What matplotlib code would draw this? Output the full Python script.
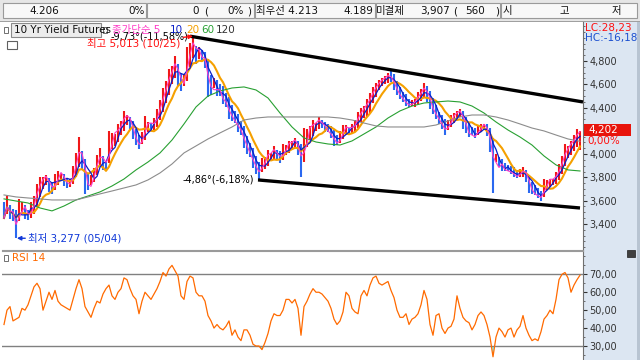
import numpy as np
import pandas as pd
import matplotlib
matplotlib.use("Agg")
import matplotlib.pyplot as plt
from matplotlib.patches import Rectangle

plt.rcParams['font.family'] = ['DejaVu Sans', 'Noto Sans CJK KR']

# daily bar midpoints (x1000 yield), left to right
mid = [3520, 3563, 3503, 3477, 3417, 3520, 3537, 3503, 3477, 3520, 3563, 3649,
       3718, 3752, 3778, 3735, 3709, 3761, 3795, 3804, 3778, 3752, 3752, 3821, 3907,
       4018, 3950, 3804, 3761, 3778, 3821, 3907, 3975, 3924, 3907, 4061,
       4113, 4121, 4182, 4224, 4285, 4293, 4267, 4207, 4147, 4104,
       4139, 4224, 4233, 4233, 4259, 4310, 4379, 4465, 4534, 4620, 4680, 4748,
       4680, 4620, 4637, 4774, 4852, 4912, 4852, 4869, 4852,
       4809, 4654, 4594, 4611, 4568, 4551, 4508, 4465, 4396, 4353, 4319, 4267, 4224,
       4147, 4078, 4035, 3967, 3907, 3881,
       3907, 3924, 3967, 3975, 4010, 3993, 3975, 4018, 4035, 4061, 4078, 4096, 4053,
       3950,
       4078, 4139, 4182, 4224, 4233, 4267, 4259, 4233, 4224, 4190, 4139,
       4121, 4147, 4190, 4207, 4199, 4216, 4242, 4293, 4336, 4362, 4396, 4439, 4508,
       4551, 4594, 4620, 4637, 4654,
       4671, 4620, 4568, 4525, 4491, 4465, 4439, 4439, 4439, 4482, 4508, 4551, 4517,
       4465, 4413, 4362, 4310, 4276, 4233,
       4250, 4285, 4310, 4336, 4353, 4293, 4250, 4207, 4199, 4182, 4207, 4224, 4233,
       4207, 4121,
       3950,
       3967, 3932, 3907, 3889, 3881, 3864, 3847, 3829, 3838, 3847, 3812, 3743, 3709,
       3692, 3666,
       3649, 3709, 3735, 3752, 3761, 3795, 3847, 3907, 3993, 4018, 4053, 4096, 4139, 4117]

# body of each bar: close - open
change = [-140, 150, -120, -100, -200, 190, 100, -120, -90, 140, 150, 190,
          170, 100, 90, -120, -100, 140, 120, 70, -100, -90, 70, 150, 200,
          250, -150, -300, -140, 90, 120, 170, 150, -120, -70, 270,
          140, 100, 150, 120, 170, 90, -100, -150, -140, -120,
          100, 200, 90, -70, 100, 150, 170, 200, 190, 220, 150, 190,
          -190, -150, 100, 290, 200, 170, -150, 100, -90,
          -140, -320, -170, 90, -140, -100, -150, -120, -190, -140, -100, -150, -120,
          -190, -150, -120, -170, -150, -100,
          120, 100, 140, 70, 120, -90, -100, 140, 90, 100, 70, 90, -120,
          -270,
          300, 150, 120, 140, 70, 100, -70, -90, -70, -100, -140,
          -90, 100, 120, 90, -50, 90, 100, 140, 120, 100, 150, 170, 140, 120, 90, 70, 70, 90,
          -100, -140, -120, -100, -90, -100, -70, 50, 70, 100, 100, 120, -140, -150, -140,
          -120, -100, -120, -140,
          90, 100, 90, 70, 70, -150, -140, -120, -70, -90, 90, 70, 50, -100, -200,
          -370,
          70, -90, -100, -70, -50, -70, -90, -70, 70, 90, -100, -150, -100, -90, -90,
          -70, 150, 90, 70, 50, 100, 140, 150, 190, 100, 120, 140, 150, 170]

low_wicks = {4: 3277, 85: 3778, 99: 3800, 163: 3666, 179: 3600}
high_wicks = {63: 5013}
last_price = 4202

# 60 / 120 day averages, read every 4th bar
ma60_every4 = [3615, 3597, 3580, 3537, 3512, 3554, 3606, 3640, 3675, 3726, 3786, 3864,
               3932, 4010, 4121, 4259, 4405, 4499, 4542, 4568, 4577, 4551, 4482, 4353,
               4233, 4139, 4104, 4087, 4078, 4113, 4173, 4233, 4310, 4371, 4413, 4439,
               4448, 4456, 4448, 4413, 4353, 4276, 4207, 4147, 4078, 3984, 3907, 3864, 3855]
ma120_every4 = [3649, 3632, 3623, 3615, 3606, 3606, 3606, 3632, 3658, 3683, 3709, 3735,
                3778, 3838, 3915, 4010, 4070, 4130, 4182, 4233, 4293, 4310, 4319, 4319,
                4319, 4319, 4319, 4319, 4310, 4293, 4267, 4242, 4233, 4233, 4233, 4233,
                4250, 4285, 4319, 4336, 4336, 4319, 4293, 4259, 4224, 4199, 4164, 4130, 4110]

rsi14 = [42, 50, 52, 44, 45, 46, 51, 50, 53, 58, 63, 65, 62, 50, 55, 60, 56, 61, 55, 53,
         52, 51, 50, 56, 62, 67, 62, 52, 49, 46, 51, 55, 54, 59, 62, 64, 58, 56, 60, 62,
         68, 67, 62, 58, 56, 48, 55, 60, 58, 56, 59, 62, 66, 71, 69, 73, 75, 72, 69, 58,
         56, 66, 69, 68, 60, 58, 58, 55, 47, 44, 40, 42, 40, 39, 41, 44, 36, 39, 35, 33,
         39, 39, 36, 31, 30, 30, 28, 32, 37, 44, 48, 47, 47, 50, 56, 56, 54, 56, 51, 36,
         52, 55, 59, 62, 60, 60, 59, 57, 55, 51, 45, 42, 44, 49, 60, 58, 51, 49, 48, 58,
         61, 58, 64, 68, 69, 65, 64, 65, 66, 61, 57, 50, 46, 46, 48, 42, 45, 46, 48, 53,
         61, 56, 42, 36, 47, 48, 40, 37, 40, 41, 45, 58, 51, 46, 44, 43, 39, 42, 47, 49,
         47, 42, 35, 24, 35, 40, 38, 35, 39, 40, 35, 39, 41, 47, 40, 36, 33, 34, 33, 38,
         45, 47, 50, 48, 56, 67, 70, 71, 68, 60, 64, 67, 69.5]

price_ticks = [3400, 3600, 3800, 4000, 4400, 4600, 4800]
rsi_ticks = [30, 40, 50, 60, 70]

W, H = 640, 360
fig = plt.figure(figsize=(6.4, 3.6), dpi=100)
fig.patch.set_facecolor('white')


def box(x0, y0, x1, y1):
    return [x0 / W, 1 - y1 / H, (x1 - x0) / W, (y1 - y0) / H]


def ftext(x, y, s, **kw):
    kw.setdefault('va', 'center')
    kw.setdefault('fontsize', 7)
    return fig.text(x / W, 1 - y / H, s, **kw)


def frect(x0, y0, x1, y1, **kw):
    r = Rectangle((x0 / W, 1 - y1 / H), (x1 - x0) / W, (y1 - y0) / H,
                  transform=fig.transFigure, **kw)
    fig.patches.append(r)
    return r


# header strip
frect(0, 0, 640, 21, facecolor='#e6e6e6', edgecolor='none', zorder=-3)
for a, b in [(3, 146), (147, 254), (255, 375), (376, 500), (501, 637)]:
    frect(a, 3, b, 18, facecolor='#f8f8f8', edgecolor='#9a9a9a', lw=0.8, zorder=-2)
hdr = [(29, '4.206', 'left'), (145, '0%', 'right'), (199, '0', 'right'), (204, '(', 'left'),
       (244, '0%', 'right'), (247, ')', 'left'), (256, '최우선 4.213', 'left'),
       (373, '4.189', 'right'), (376, '미결제', 'left'), (450, '3,907', 'right'),
       (453, '(', 'left'), (465, '560', 'left'), (495, ')', 'left'), (503, '시', 'left'),
       (560, '고', 'left'), (612, '저', 'left')]
for x, s, ha in hdr:
    ftext(x, 11, s, ha=ha, fontsize=7.5, color='#111111')
frect(0, 20.5, 640, 21.5, facecolor='#a0a0a0', edgecolor='none', zorder=-2)

# right scale panel
frect(583, 22, 637, 360, facecolor='#dce6f2', edgecolor='none', zorder=-3)
frect(637, 22, 640, 360, facecolor='#b8c4d2', edgecolor='none', zorder=-3)

n = len(mid)
idx = np.arange(n)
mid = np.array(mid, dtype=float)
body = np.array(change, dtype=float)
close = mid + body / 2
opens = mid - body / 2
lo = np.minimum(opens, close)
hi = np.maximum(opens, close)
for k, v in low_wicks.items():
    lo[k] = min(lo[k], v)
for k, v in high_wicks.items():
    hi[k] = max(hi[k], v)
up = body >= 0


def bar_of(px):
    return (px - 4) / 3.0


# ---- price panel
ax = fig.add_axes(box(2, 22, 583, 250))
ax.set_xlim(bar_of(2), bar_of(583))
ax.set_ylim(3176, 5135)
ax.vlines(idx[up], lo[up], hi[up], colors='#f01818', lw=1.5, zorder=2)
ax.vlines(idx[~up], lo[~up], hi[~up], colors='#2a68f0', lw=1.5, zorder=2)

s = pd.Series(close)
ax.plot(idx, s.rolling(9, min_periods=1).mean(), color='#f5a000', lw=1.5, zorder=3)
ax.plot(idx, s.rolling(5, min_periods=1).mean(), color='#0a1ec8', lw=0.9, zorder=4)
ax.plot(idx, s.rolling(3, min_periods=1).mean(), color='#ff3cc8', lw=0.8, zorder=4)
ma_idx = np.arange(0, n, 4)
ax.plot(ma_idx, ma60_every4, color='#28a032', lw=0.8, zorder=3)
ax.plot(ma_idx, ma120_every4, color='#8c8c8c', lw=0.8, zorder=3)

# trend lines from the high and from the autumn low
up_line = ([62, bar_of(583)], [5013, 4448])
dn_line = ([bar_of(258), 192], [3778, 3537])
for xs, ys in (up_line, dn_line):
    ax.plot(xs, ys, color='#000000', lw=2.4, solid_capstyle='butt', zorder=5, clip_on=False)

ax.annotate('-9,73°(-11,58%)', xy=(up_line[0][0], up_line[1][0]), xytext=(-1, 0),
            textcoords='offset points', ha='right', va='center', fontsize=7, zorder=6)
ax.annotate('-4,86°(-6,18%)', xy=(dn_line[0][0], dn_line[1][0]), xytext=(-3, 0),
            textcoords='offset points', ha='right', va='center', fontsize=7, zorder=6)
ax.annotate('최고 5,013 (10/25)', xy=(63, 5013), xytext=(-9, -5), textcoords='offset points',
            ha='right', va='center', fontsize=7.5, color='#ff1010', zorder=6,
            arrowprops=dict(arrowstyle='-|>', color='#ff1010', lw=1, shrinkA=0, shrinkB=0,
                            mutation_scale=6))
ax.annotate('최저 3,277 (05/04)', xy=(4.3, 3277), xytext=(8, 0), textcoords='offset points',
            ha='left', va='center', fontsize=7.5, color='#1038d8', zorder=6,
            arrowprops=dict(arrowstyle='-|>', color='#1038d8', lw=1, shrinkA=0, shrinkB=0,
                            mutation_scale=6))

ax.yaxis.tick_right()
ax.set_yticks(price_ticks)
ax.set_yticklabels([f'{v:,}' for v in price_ticks])
ax.set_yticks(np.arange(3200, 5101, 50), minor=True)
ax.tick_params(axis='y', which='major', length=3, pad=1.5, labelsize=7, colors='#333333')
ax.tick_params(axis='y', which='minor', length=1.5, colors='#555555')
ax.set_xticks([])
for sp in ('left', 'top'):
    ax.spines[sp].set_visible(False)
ax.spines['right'].set_color('#707070')
ax.spines['bottom'].set_color('#9a9a9a')

# legend row
frect(4, 27, 8, 33, facecolor='white', edgecolor='#707070', lw=0.7)
frect(11, 23, 101, 37, facecolor='#ececec', edgecolor='#8a8a8a', lw=0.8)
ftext(14, 30, '10 Yr Yield Futures', fontsize=7.5, color='#111111')
frect(103, 27, 107, 33, facecolor='white', edgecolor='#707070', lw=0.7)
ftext(112, 30, '종가단순 5', fontsize=7.5, color='#ff3cc8')
ftext(170, 30, '10', fontsize=7.5, color='#0a1ec8')
ftext(186, 30, '20', fontsize=7.5, color='#f5a000')
ftext(201, 30, '60', fontsize=7.5, color='#28a032')
ftext(216, 30, '120', fontsize=7.5, color='#333333')
frect(7, 41, 17, 49, facecolor='white', edgecolor='#606060', lw=0.8)

# right panel labels
ftext(585, 28, 'LC:28,23', color='#ff1010', fontsize=7.5)
ftext(585, 38, 'HC:-16,18', color='#1c50d0', fontsize=7.5)
frect(584, 124, 631, 136, facecolor='#e8140c', edgecolor='none', zorder=5)
ftext(588, 130, f'{last_price:,}', color='white', fontsize=7.5, zorder=6)
ftext(587, 141, '0,00%', color='#ff1010', fontsize=7.5, zorder=6)

# ---- RSI panel
rax = fig.add_axes(box(2, 251, 583, 360))
rax.set_xlim(bar_of(2), bar_of(583))
rax.set_ylim(22.2, 83)
rsi = np.array(rsi14, dtype=float)
rax.axhline(70, color='#808080', lw=1)
rax.axhline(30, color='#808080', lw=1)
rax.fill_between(idx, rsi, 30, where=rsi < 30, interpolate=True, color='#80ffff', lw=0)
rax.plot(idx, rsi, color='#ff6a00', lw=0.9)
rax.yaxis.tick_right()
rax.set_yticks(rsi_ticks)
rax.set_yticklabels([f'{v:.2f}'.replace('.', ',') for v in rsi_ticks])
rax.set_yticks(np.arange(25, 81, 5), minor=True)
rax.tick_params(axis='y', which='major', length=3, pad=1.5, labelsize=7, colors='#333333')
rax.tick_params(axis='y', which='minor', length=1.5, colors='#555555')
rax.set_xticks([])
for sp in ('left', 'bottom'):
    rax.spines[sp].set_visible(False)
rax.spines['right'].set_color('#707070')
rax.spines['top'].set_color('#9a9a9a')
frect(4, 255, 8, 261, facecolor='white', edgecolor='#707070', lw=0.7)
ftext(12, 258, 'RSI 14', color='#ff6a00', fontsize=7.5)
frect(627, 250, 635, 257, facecolor='#404040', edgecolor='#202020', lw=0.5)

fig.savefig('out.png', dpi=100)
